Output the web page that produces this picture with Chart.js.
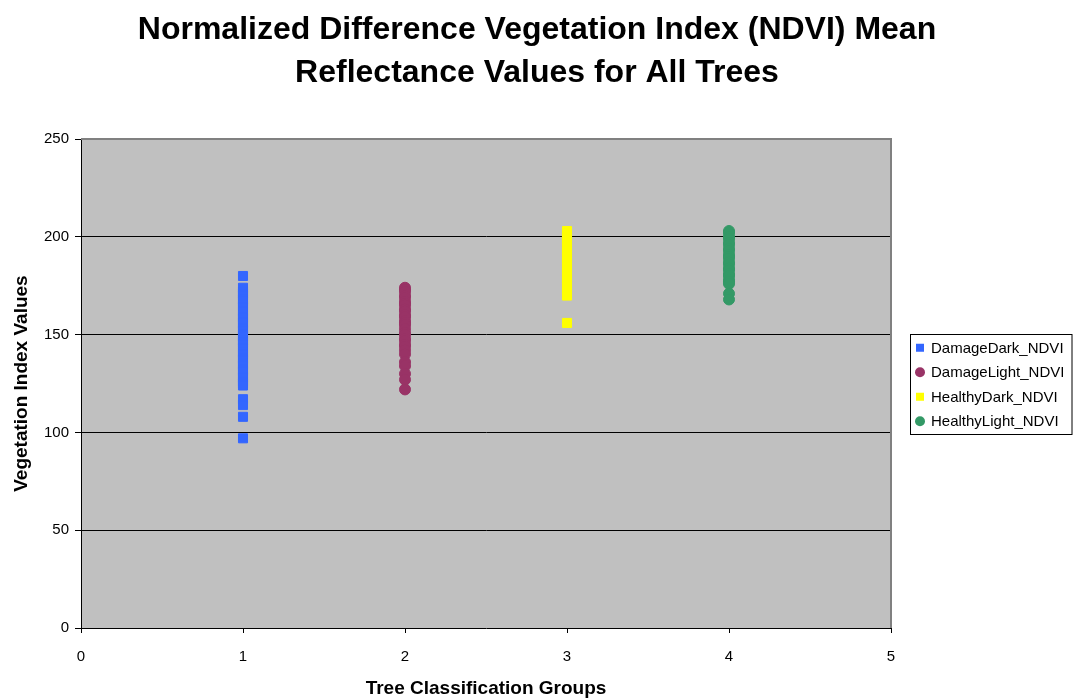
<!DOCTYPE html>
<html>
<head>
<meta charset="utf-8">
<script src="https://cdn.jsdelivr.net/npm/chart.js@4.4.1/dist/chart.umd.min.js"></script>
<style>
  html, body { margin: 0; padding: 0; background: #fff; }
</style>
</head>
<body>
<canvas id="ndvi" width="1074" height="700"></canvas>
<script>
const FONT = '"Liberation Sans", Arial, Helvetica, sans-serif';

// one column of points per tree classification group
const seriesNames = ['DamageDark_NDVI', 'DamageLight_NDVI', 'HealthyDark_NDVI', 'HealthyLight_NDVI'];
const seriesGroups = [1, 2, 3, 4];
const seriesColors = ['#3366ff', '#993366', '#ffff00', '#339966'];
const seriesShapes = ['rect', 'circle', 'rect', 'circle'];

const damageDark = [180, 174, 172, 171, 170, 168, 167, 165, 164, 162, 160, 159, 158, 156, 155, 153,
  152, 150, 149, 147, 146, 145, 143, 141, 140, 138, 137, 135, 134, 132, 131, 129, 128, 126, 125,
  124, 117, 114, 108, 97];
const damageLight = [174, 173, 172, 170, 169, 167, 166, 165, 163, 162, 160, 159, 157, 156, 155, 153,
  151, 150, 148, 147, 145, 144, 142, 140, 136, 134, 130, 127, 122];
const healthyDark = [203, 201, 200, 198, 197, 195, 193, 192, 190, 189, 187, 186, 184, 182, 181, 179,
  178, 176, 175, 173, 171, 170, 156];
const healthyLight = [203, 202, 200, 199, 197, 196, 194, 193, 191, 190, 189, 187, 186, 184, 183, 181,
  180, 178, 177, 176, 171, 168];

const seriesValues = [damageDark, damageLight, healthyDark, healthyLight];

const xMin = 0, xMax = 5, xStep = 1;
const yMin = 0, yMax = 250, yStep = 50;

const titleLines = ['Normalized Difference Vegetation Index (NDVI) Mean', 'Reflectance Values for All Trees'];
const xTitle = 'Tree Classification Groups';
const yTitle = 'Vegetation Index Values';

const datasets = seriesNames.map((name, i) => ({
  label: name,
  data: seriesValues[i].map(v => ({ x: seriesGroups[i], y: v })),
  backgroundColor: seriesColors[i],
  borderColor: seriesColors[i],
  borderWidth: 1,
  pointStyle: seriesShapes[i],
  pointRadius: seriesShapes[i] === 'rect' ? 6.4 : 5.5,
  pointHoverRadius: seriesShapes[i] === 'rect' ? 6.4 : 5.5,
}));

// grey plot area with a darker frame on the top and right edges
const plotFrame = {
  id: 'plotFrame',
  beforeDraw(chart) {
    const { ctx, chartArea: a } = chart;
    ctx.save();
    ctx.fillStyle = '#c0c0c0';
    ctx.fillRect(a.left, a.top, a.width, a.height);
    ctx.restore();
  },
  afterDatasetsDraw(chart) {
    const { ctx, chartArea: a } = chart;
    ctx.save();
    ctx.strokeStyle = '#808080';
    ctx.lineWidth = 2;
    ctx.beginPath();
    ctx.moveTo(a.left, a.top);
    ctx.lineTo(a.right, a.top);
    ctx.lineTo(a.right, a.bottom);
    ctx.stroke();
    ctx.restore();
  }
};

// boxed legend to the right of the plot
const boxLegend = {
  id: 'boxLegend',
  afterDraw(chart) {
    const { ctx, chartArea: a } = chart;
    const rowH = 24.5;
    const n = chart.data.datasets.length;
    const boxL = a.right + 19;
    const boxR = chart.width - 2.5;
    const midY = (a.top + a.bottom) / 2;
    const boxT = Math.round(midY - (n * rowH + 2) / 2) + 0.5;
    const boxB = boxT + n * rowH + 2;
    ctx.save();
    ctx.strokeStyle = '#000';
    ctx.lineWidth = 1;
    ctx.strokeRect(boxL + 0.5, boxT, boxR - boxL, boxB - boxT);
    ctx.font = '15px ' + FONT;
    ctx.textBaseline = 'middle';
    ctx.textAlign = 'left';
    chart.data.datasets.forEach((ds, i) => {
      const cy = boxT + 1 + rowH * (i + 0.5);
      const cx = boxL + 10;
      ctx.fillStyle = ds.backgroundColor;
      if (ds.pointStyle === 'rect') {
        ctx.fillRect(cx - 4, cy - 4, 8, 8);
      } else {
        ctx.beginPath();
        ctx.arc(cx, cy, 5, 0, Math.PI * 2);
        ctx.fill();
      }
      ctx.fillStyle = '#000';
      ctx.fillText(ds.label, boxL + 21, cy + 1);
    });
    ctx.restore();
  }
};

new Chart(document.getElementById('ndvi'), {
  type: 'scatter',
  data: { datasets },
  plugins: [plotFrame, boxLegend],
  options: {
    responsive: false,
    animation: false,
    layout: { padding: 0 },
    plugins: {
      legend: { display: false },
      tooltip: { enabled: false },
      title: {
        display: true,
        text: titleLines,
        color: '#000',
        font: { family: FONT, size: 32, weight: 'bold', lineHeight: 1.33 },
        padding: { top: 9, bottom: 45 },
      },
    },
    scales: {
      x: {
        type: 'linear',
        min: xMin,
        max: xMax,
        afterFit(scale) { scale.height = 72; },
        ticks: {
          stepSize: xStep,
          color: '#000',
          padding: 15,
          font: { family: FONT, size: 15 },
        },
        grid: {
          drawOnChartArea: false,
          tickLength: 5,
          tickColor: '#000',
        },
        border: { color: '#000', width: 1 },
        title: {
          display: true,
          text: xTitle,
          color: '#000',
          font: { family: FONT, size: 19, weight: 'bold' },
          padding: { top: 4, bottom: 0 },
        },
      },
      y: {
        type: 'linear',
        min: yMin,
        max: yMax,
        afterFit(scale) { scale.width = 81; },
        ticks: {
          stepSize: yStep,
          color: '#000',
          padding: 6,
          font: { family: FONT, size: 15 },
        },
        grid: {
          color: c => (c.tick && (c.tick.value === yMin || c.tick.value === yMax)) ? 'rgba(0,0,0,0)' : '#000',
          tickColor: '#000',
          tickLength: 6,
          lineWidth: 1,
        },
        border: { color: '#000', width: 1 },
        title: {
          display: true,
          text: yTitle,
          color: '#000',
          font: { family: FONT, size: 19, weight: 'bold' },
          padding: { top: 10, bottom: 0 },
        },
      },
      // blank strip on the right that leaves room for the legend box
      legendSpace: {
        type: 'linear',
        position: 'right',
        axis: 'y',
        afterFit(scale) { scale.width = 183; },
        ticks: { display: false },
        grid: { display: false },
        border: { display: false },
      },
    },
  },
});
</script>
</body>
</html>
